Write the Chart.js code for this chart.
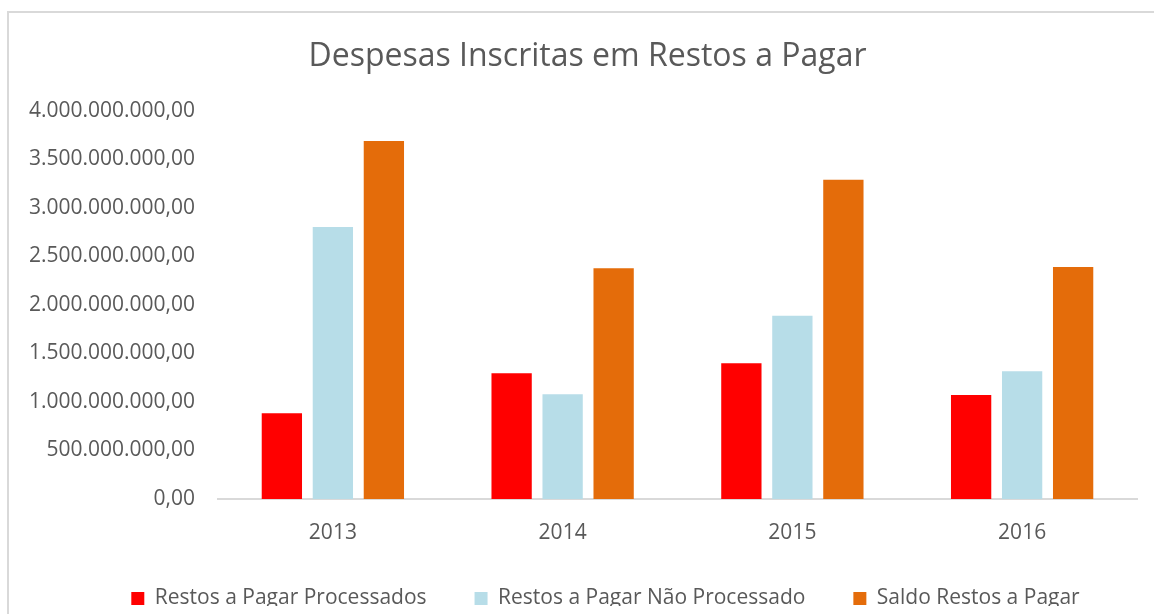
<!DOCTYPE html>
<html>
<head>
<meta charset="utf-8">
<script src="https://cdn.jsdelivr.net/npm/chart.js@4.4.1/dist/chart.umd.min.js"></script>
<style>
  html, body { margin: 0; padding: 0; background: #fff; }
  .wrap { position: relative; width: 1154px; height: 614px; overflow: hidden; }
  .frame { position: absolute; left: 7px; top: 11px; width: 1200px; height: 700px;
           border-left: 2px solid #d9d9d9; border-top: 2px solid #d9d9d9; pointer-events: none; }
</style>
</head>
<body>
<div class="wrap">
  <canvas id="myChart" width="1154" height="614"></canvas>
  <div class="frame"></div>
</div>
<script>
const years = ["2013", "2014", "2015", "2016"];
const processados = [883000000, 1297000000, 1400000000, 1073000000];
const naoProcessados = [2805000000, 1080000000, 1890000000, 1318000000];
const saldo = [3690000000, 2378000000, 3291000000, 2392000000];
const yTicks = [0, 500000000, 1000000000, 1500000000, 2000000000, 2500000000, 3000000000, 3500000000, 4000000000];

const grey = "#595959";

// 4000000000 -> "4.000.000.000,00"
function fmtBR(v) {
  const s = Math.round(v).toString().replace(/\B(?=(\d{3})+(?!\d))/g, ".");
  return s + ",00";
}

// legend box made smaller, title + legend nudged to sit like the original
const nudge = {
  id: "nudge",
  afterInit(chart) {
    const lg = chart.legend;
    const fit = lg.fit;
    lg.fit = function () {
      fit.call(this);
      this.height = 66;
    };
  },
  afterLayout(chart) {
    const lg = chart.legend;
    lg.top -= 8;
    lg.bottom -= 8;
    lg.left += 37;
    lg.right += 37;
    const t = chart.titleBlock;
    t.left += 19;
    t.right += 19;
  },
};

new Chart(document.getElementById("myChart"), {
  type: "bar",
  data: {
    labels: years,
    datasets: [
      { label: "Restos a Pagar Processados", data: processados, backgroundColor: "#ff0000" },
      { label: "Restos a Pagar Não Processado", data: naoProcessados, backgroundColor: "#b7dde8" },
      { label: "Saldo Restos a Pagar", data: saldo, backgroundColor: "#e46c0a" },
    ],
  },
  options: {
    responsive: false,
    animation: false,
    categoryPercentage: 0.666,
    barPercentage: 0.79,
    layout: { padding: { left: 0, right: 17, top: 0, bottom: 0 } },
    plugins: {
      title: {
        display: true,
        text: "Despesas Inscritas em Restos a Pagar",
        color: grey,
        font: { family: "Open Sans", size: 32, weight: "normal" },
        padding: { top: 38, bottom: 34.6 },
      },
      legend: {
        position: "bottom",
        labels: {
          color: grey,
          font: { family: "Open Sans", size: 21 },
          boxWidth: 13,
          boxHeight: 13,
          padding: 48,
        },
      },
      tooltip: { enabled: false },
    },
    scales: {
      x: {
        grid: { display: false, drawTicks: false },
        border: { display: true, color: "#d9d9d9", width: 2 },
        ticks: { color: grey, font: { family: "Open Sans", size: 21 }, padding: 21 },
        afterFit: (s) => { s.height = 49; },
      },
      y: {
        min: 0,
        max: 4000000000,
        grid: { display: false, drawTicks: false },
        border: { display: false },
        afterBuildTicks: (s) => { s.ticks = yTicks.map((v) => ({ value: v })); },
        ticks: {
          color: grey,
          font: { family: "Open Sans", size: 21 },
          padding: 23,
          callback: (v) => fmtBR(v),
        },
        afterFit: (s) => { s.width = 218; },
      },
    },
  },
  plugins: [nudge],
});
</script>
</body>
</html>
